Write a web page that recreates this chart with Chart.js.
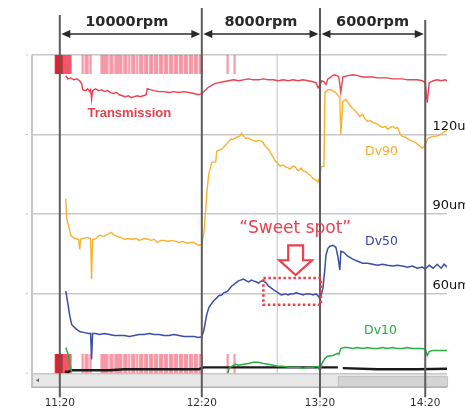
<!DOCTYPE html>
<html><head><meta charset="utf-8">
<script src="https://cdn.jsdelivr.net/npm/chart.js@4.4.1/dist/chart.umd.min.js"></script>
<style>html,body{margin:0;padding:0;background:#fff;overflow:hidden;}#wrap{position:relative;width:465px;height:412px;}</style>
</head><body>
<div id="wrap"><canvas id="c"></canvas></div>
<script>
// ---- axis / label data ----
const timeTickPos = [28, 171, 290, 396];          // sample index of clock ticks
const timeTickLabels = ['11:20', '12:20', '13:20', '14:20'];
const speedLabels = ['10000rpm', '8000rpm', '6000rpm'];
const sizeTicks = [60, 90, 120];
const sizeTickLabels = ['60um', '90um', '120um'];

// ---- series (x = sample index, y = value) ----
const transmission = [[34,93.5],[36,92.5],[39,92.8],[42,92.2],[45,92.5],[48,91.9],[50,91.0],[51,89.1],[54,88.8],[56,89.4],[58,88.5],[59,89.1],[60,86.0],[61,88.8],[64,89.4],[67,88.8],[70,89.1],[73,88.5],[76,88.8],[79,88.2],[82,87.9],[85,88.2],[88,87.5],[91,87.2],[94,86.9],[97,87.2],[100,86.6],[103,86.9],[106,87.2],[109,86.9],[112,87.2],[115,87.5],[116,89.4],[119,89.1],[123,88.8],[128,88.5],[133,88.5],[138,88.2],[143,88.5],[148,88.2],[153,88.5],[158,88.2],[163,87.9],[168,87.5],[171,87.9],[174,88.8],[177,89.7],[180,90.3],[184,91.0],[188,91.3],[193,91.6],[198,91.9],[203,92.2],[208,91.9],[213,92.2],[218,92.5],[223,92.2],[228,92.2],[233,92.5],[238,92.2],[243,92.2],[248,91.9],[253,92.2],[258,91.9],[263,92.2],[268,91.9],[273,92.2],[278,91.9],[283,91.6],[286,91.3],[288,89.7],[290,90.7],[292,91.9],[294,91.6],[296,90.7],[298,92.5],[301,93.1],[304,93.8],[307,93.5],[309,93.1],[311,88.2],[313,93.1],[318,93.5],[323,93.8],[328,93.5],[333,93.1],[338,93.1],[343,93.1],[348,92.8],[353,92.8],[358,92.8],[363,92.5],[368,92.5],[373,92.5],[378,92.2],[383,92.2],[388,92.2],[393,91.9],[396,91.3],[398,85.0],[400,91.3],[404,91.9],[408,92.2],[412,91.9],[416,92.2],[418,91.9]];

const dv90 = [[34,95.8],[35,88.3],[37,85.3],[39,82.0],[43,80.8],[47,80.5],[48,76.7],[49,80.5],[51,80.8],[56,81.2],[59,80.8],[60,65.5],[61,80.5],[63,80.5],[68,82.0],[72,81.6],[76,82.3],[80,83.1],[83,82.0],[86,81.6],[89,81.2],[93,80.5],[97,80.8],[101,80.5],[105,80.8],[108,80.1],[113,80.8],[117,80.5],[120,80.1],[123,80.5],[126,79.3],[130,80.1],[133,80.1],[137,79.7],[141,80.1],[145,79.7],[148,79.3],[152,79.7],[156,79.0],[160,79.3],[163,79.3],[166,78.6],[168,78.2],[171,78.6],[173,82.7],[175,92.1],[176,97.7],[178,105.1],[181,109.6],[185,109.6],[186,113.7],[191,114.5],[196,116.4],[200,118.2],[203,118.2],[206,119.0],[209,119.3],[211,120.5],[213,119.3],[215,118.6],[218,118.6],[220,118.2],[223,117.8],[226,117.5],[228,117.8],[231,117.5],[233,116.7],[235,115.6],[238,114.5],[241,112.6],[245,110.0],[248,108.9],[250,108.1],[253,108.5],[255,107.8],[258,107.4],[260,107.0],[263,108.1],[265,107.8],[268,106.3],[271,107.4],[273,106.3],[276,105.9],[278,105.1],[281,104.4],[283,103.3],[286,102.9],[288,102.1],[290,104.0],[291,107.8],[294,108.1],[295,135.8],[298,136.9],[301,136.9],[303,136.5],[306,135.8],[309,134.3],[310,133.6],[311,120.1],[313,132.4],[316,133.2],[318,132.1],[321,130.6],[324,129.4],[326,128.7],[328,127.9],[330,126.8],[333,127.6],[335,126.1],[338,124.9],[341,125.3],[343,124.6],[346,124.2],[348,123.8],[351,123.1],[353,122.7],[356,123.1],[358,122.0],[361,122.7],[363,123.1],[366,122.3],[368,122.7],[371,120.1],[373,119.3],[376,119.0],[379,118.2],[383,117.5],[386,117.1],[388,116.4],[391,115.6],[393,114.9],[395,115.6],[397,117.1],[399,118.6],[403,119.3],[406,119.3],[410,119.7],[413,120.5],[416,121.2],[418,121.6]];

const dv50 = [[34,61.0],[36,56.5],[38,51.7],[40,48.3],[44,46.8],[48,45.7],[53,45.3],[57,45.0],[59,45.0],[60,35.2],[61,45.0],[64,45.0],[68,44.6],[73,45.0],[78,44.6],[83,44.2],[88,44.2],[93,44.2],[98,43.8],[103,44.2],[108,44.6],[113,44.6],[118,45.0],[123,44.6],[128,44.6],[133,44.2],[138,44.2],[143,44.6],[148,44.2],[153,43.8],[158,43.8],[163,43.8],[168,43.5],[171,43.8],[173,46.1],[176,52.1],[178,54.7],[180,55.8],[183,57.3],[186,58.4],[188,59.2],[191,59.5],[193,60.3],[196,60.7],[198,61.4],[201,62.9],[203,63.3],[205,64.0],[208,64.8],[210,65.1],[213,65.5],[216,64.8],[218,64.4],[221,65.1],[223,64.8],[226,64.4],[228,64.0],[231,64.8],[233,64.8],[236,64.0],[238,62.9],[241,62.1],[245,61.0],[248,60.3],[251,59.5],[255,59.9],[258,59.5],[260,59.9],[263,59.9],[266,60.3],[270,59.9],[273,59.5],[276,59.9],[280,59.9],[283,59.5],[286,59.9],[288,59.2],[290,58.0],[293,62.1],[295,69.6],[296,74.5],[298,77.1],[300,77.9],[303,78.2],[306,77.5],[308,74.1],[310,68.9],[311,76.0],[314,75.6],[318,74.1],[323,73.0],[328,72.2],[333,71.5],[338,71.5],[343,71.1],[348,70.7],[353,71.1],[358,70.7],[363,70.4],[368,70.7],[373,70.4],[378,70.0],[383,70.4],[388,69.6],[393,70.0],[396,69.3],[400,70.7],[404,69.6],[408,71.1],[412,69.6],[415,71.1],[418,70.0]];

const dv10 = [[34,39.7],[36,37.5],[38,33.4],[40,30.4],[41,null],[197,30.0],[199,32.2],[201,32.6],[205,33.4],[208,33.0],[213,33.4],[218,33.7],[223,34.1],[228,34.1],[233,33.7],[238,33.4],[243,33.0],[248,32.6],[253,32.6],[258,32.2],[263,32.2],[268,32.2],[273,31.9],[278,32.2],[283,32.2],[288,32.6],[290,30.7],[292,33.7],[295,35.6],[298,36.4],[303,36.7],[308,37.5],[309,37.1],[311,39.3],[314,39.7],[318,39.7],[323,39.3],[328,39.7],[333,39.3],[338,39.7],[343,39.3],[348,39.3],[353,39.7],[358,39.3],[363,39.7],[368,39.3],[373,39.3],[378,39.7],[383,39.3],[388,39.3],[393,39.3],[396,39.0],[398,36.7],[400,38.2],[404,38.6],[408,38.6],[413,38.6],[418,38.6]];

const baseline = [[33,30.7],[36,30.4],[40,31.1],[53,31.1],[64,31.1],[78,31.1],[93,31.5],[118,31.5],[143,31.5],[168,31.5],[173,32.2],[198,32.2],[228,32.2],[258,32.2],[288,32.2],[308,32.2],[310,null],[313,31.9],[348,31.5],[388,31.5],[418,31.7]];

// event marks (sample index)
const eventDense = [24,25,26,27,28,29,30];
const eventSoft = [31,32,33,34,35,36,37,38,39];
const eventMarks = [51,54,56,59,70,72,74,76,79,81,84,86,88,90,93,95,98,101,103,106,109,111,114,116,119,121,124,126,129,131,134,136,139,141,144,146,149,151,154,156,159,161,164,166,169,171,197,204];

// ---- helpers ----
const pts = a => a.map(p => ({x: p[0], y: p[1]}));
const bars = (a, lo, hi) => {
  const out = [];
  a.forEach(s => { out.push({x: s, y: [hi - 5.9, hi]}); out.push({x: s, y: [lo, lo + 5.9]}); });
  return out;
};

const decor = {
  id: 'decor',
  beforeDraw(chart) {
    const {ctx, chartArea: a} = chart;
    ctx.save();
    ctx.fillStyle = '#fff';
    ctx.fillRect(0, 0, chart.width, chart.height);
    const sb = a.bottom + 1, sh = 13;
    ctx.fillStyle = '#e7e7e7';
    ctx.fillRect(a.left, sb, a.right - a.left, sh);
    const tx = a.left + (a.right - a.left) * 0.737;
    ctx.fillStyle = '#d4d4d4';
    ctx.fillRect(tx, sb + 2, a.right - tx, sh - 2);
    ctx.strokeStyle = '#c0c0c0'; ctx.lineWidth = 1;
    ctx.strokeRect(tx + 0.5, sb + 2.5, a.right - tx, sh - 3);
    ctx.fillStyle = '#666';
    ctx.beginPath();
    ctx.moveTo(a.left + 4, sb + 6); ctx.lineTo(a.left + 7, sb + 4); ctx.lineTo(a.left + 7, sb + 8); ctx.closePath(); ctx.fill();
    ctx.strokeStyle = '#b4b4b4'; ctx.lineWidth = 1.5;
    ctx.beginPath();
    ctx.moveTo(a.left, a.top); ctx.lineTo(a.left, sb + sh); ctx.lineTo(a.right, sb + sh);
    ctx.stroke();
    ctx.strokeStyle = '#9cc8e6'; ctx.lineWidth = 1;
    const y = chart.scales.y;
    [30, 60, 90, 120, 150].forEach(v => {
      const py = y.getPixelForValue(v);
      ctx.beginPath(); ctx.moveTo(a.left - 6, py); ctx.lineTo(a.left - 4, py); ctx.stroke();
    });
    ctx.restore();
  },
  beforeDatasetsDraw(chart) {
    const {ctx, chartArea: a, scales: {x}} = chart;
    ctx.save();
    ctx.strokeStyle = '#cfcfcf'; ctx.lineWidth = 1.3;
    const gx = x.getPixelForValue(247);
    ctx.beginPath(); ctx.moveTo(gx, a.top); ctx.lineTo(gx, a.bottom); ctx.stroke();
    ctx.restore();
  },
  afterDatasetsDraw(chart) {
    const {ctx, chartArea: a, scales: {x, y, yT}} = chart;
    ctx.save();
    ctx.strokeStyle = '#5c5c5c'; ctx.lineWidth = 2;
    timeTickPos.forEach((t, i) => {
      const px = x.getPixelForValue(t);
      const top = (i === 0) ? 15 : (i === timeTickPos.length - 1 ? 20 : 8);
      ctx.beginPath(); ctx.moveTo(px, top); ctx.lineTo(px, a.bottom + 24); ctx.stroke();
    });
    ctx.fillStyle = '#2a2a2a'; ctx.strokeStyle = '#2a2a2a';
    ctx.textAlign = 'center'; ctx.textBaseline = 'middle';
    ctx.font = 'bold 14.5px "DejaVu Sans"';
    speedLabels.forEach((lab, i) => {
      const x1 = x.getPixelForValue(timeTickPos[i]) + 1.5;
      const x2 = x.getPixelForValue(timeTickPos[i + 1]) - 1.5;
      const ay = 34;
      ctx.fillText(lab, (x1 + x2) / 2 - (i === 0 ? 4 : 0), 22);
      ctx.lineWidth = 1.3;
      ctx.beginPath(); ctx.moveTo(x1 + 4, ay); ctx.lineTo(x2 - 4, ay); ctx.stroke();
      ctx.beginPath(); ctx.moveTo(x1, ay); ctx.lineTo(x1 + 9, ay - 4); ctx.lineTo(x1 + 9, ay + 4); ctx.closePath(); ctx.fill();
      ctx.beginPath(); ctx.moveTo(x2, ay); ctx.lineTo(x2 - 9, ay - 4); ctx.lineTo(x2 - 9, ay + 4); ctx.closePath(); ctx.fill();
    });
    ctx.font = 'bold 13px "Liberation Sans"';
    ctx.fillStyle = '#e8404c';
    ctx.fillText('Transmission', x.getPixelForValue(98), yT.getPixelForValue(81.6));
    ctx.font = '12.5px "DejaVu Sans"';
    ctx.fillStyle = '#f5ae2a';
    ctx.fillText('Dv90', x.getPixelForValue(352), y.getPixelForValue(113.4));
    ctx.fillStyle = '#3545a8';
    ctx.fillText('Dv50', x.getPixelForValue(352), y.getPixelForValue(79.7));
    ctx.fillStyle = '#22ad3c';
    ctx.fillText('Dv10', x.getPixelForValue(351), y.getPixelForValue(46.1));
    ctx.fillStyle = '#ef3f4c';
    ctx.font = '17px "DejaVu Sans"';
    ctx.fillText('\u201CSweet spot\u201D', x.getPixelForValue(265), y.getPixelForValue(84.6));
    ctx.strokeStyle = '#f03c4c'; ctx.lineWidth = 2.5; ctx.setLineDash([2.5, 2.5]);
    const bx1 = x.getPixelForValue(233), bx2 = x.getPixelForValue(291);
    const by1 = y.getPixelForValue(65.9), by2 = y.getPixelForValue(55.8);
    ctx.strokeRect(bx1, by1, bx2 - bx1, by2 - by1);
    ctx.setLineDash([]);
    const sx1 = x.getPixelForValue(258), sx2 = x.getPixelForValue(273);
    const hx1 = x.getPixelForValue(249), hx2 = x.getPixelForValue(282), tx = x.getPixelForValue(265.5);
    const ty1 = y.getPixelForValue(78.2), ty2 = y.getPixelForValue(72.6), ty3 = y.getPixelForValue(67.0);
    ctx.beginPath();
    ctx.moveTo(sx1, ty1); ctx.lineTo(sx2, ty1); ctx.lineTo(sx2, ty2); ctx.lineTo(hx2, ty2);
    ctx.lineTo(tx, ty3); ctx.lineTo(hx1, ty2); ctx.lineTo(sx1, ty2); ctx.closePath();
    ctx.fillStyle = '#fff'; ctx.fill();
    ctx.lineWidth = 2.2; ctx.strokeStyle = '#ef3f4c'; ctx.lineJoin = 'miter'; ctx.stroke();
    ctx.restore();
  }
};

const lineDs = (label, data, color, width, axis) => ({
  type: 'line', label, data: pts(data), borderColor: color, borderWidth: width,
  pointRadius: 0, tension: 0, spanGaps: false, yAxisID: axis || 'y', fill: false
});
const barDs = (label, data, color) => ({
  type: 'bar', label, data: bars(data, 0, 100), backgroundColor: color, borderWidth: 0,
  barThickness: 1.6, grouped: false, yAxisID: 'yT'
});

new Chart(document.getElementById('c'), {
  type: 'line',
  data: {
    datasets: [
      lineDs('Transmission', transmission, '#ea4250', 1.4, 'yT'),
      lineDs('Dv90', dv90, '#f8b232', 1.4),
      lineDs('Dv50', dv50, '#3b4ea8', 1.5),
      lineDs('Dv10', dv10, '#27b044', 1.5),
      lineDs('Base', baseline, '#1a1a1a', 2.4),
      barDs('EventsDense', eventDense, 'rgba(228,28,40,0.9)'),
      barDs('EventsSoft', eventSoft, 'rgba(238,60,80,0.6)'),
      barDs('Events', eventMarks, 'rgba(240,60,85,0.5)')
    ]
  },
  options: {
    responsive: true, maintainAspectRatio: false, animation: false, devicePixelRatio: 1,
    layout: {autoPadding: false, padding: {left: 32, right: 11.9, top: 55, bottom: 0}},
    plugins: {legend: {display: false}, tooltip: {enabled: false}},
    scales: {
      x: {
        type: 'linear', min: 0, max: 418, offset: false, position: 'bottom',
        grid: {display: false, drawTicks: false}, border: {display: false},
        afterBuildTicks: s => { s.ticks = timeTickPos.map(v => ({value: v})); },
        ticks: {
          autoSkip: false, maxRotation: 0, padding: 24, color: '#333',
          font: {family: 'DejaVu Sans', size: 10.5},
          callback: (v) => { const i = timeTickPos.indexOf(v); return i >= 0 ? timeTickLabels[i] : ''; }
        },
        afterFit: s => { s.height = 33.2; }
      },
      y: {
        type: 'linear', position: 'right', min: 30, max: 150,
        grid: {color: '#c8c8c8', lineWidth: 1.4, drawTicks: false},
        border: {display: false},
        ticks: {
          stepSize: 30, mirror: true, crossAlign: 'far', padding: 31, labelOffset: -8, color: '#111',
          font: {family: 'DejaVu Sans', size: 13},
          callback: v => { const i = sizeTicks.indexOf(v); return i >= 0 ? sizeTickLabels[i] : ''; }
        },
        afterFit: s => { s.width = 0; }
      },
      yT: {type: 'linear', display: false, min: 0, max: 100}
    }
  },
  plugins: [decor]
});
</script>
</body></html>
